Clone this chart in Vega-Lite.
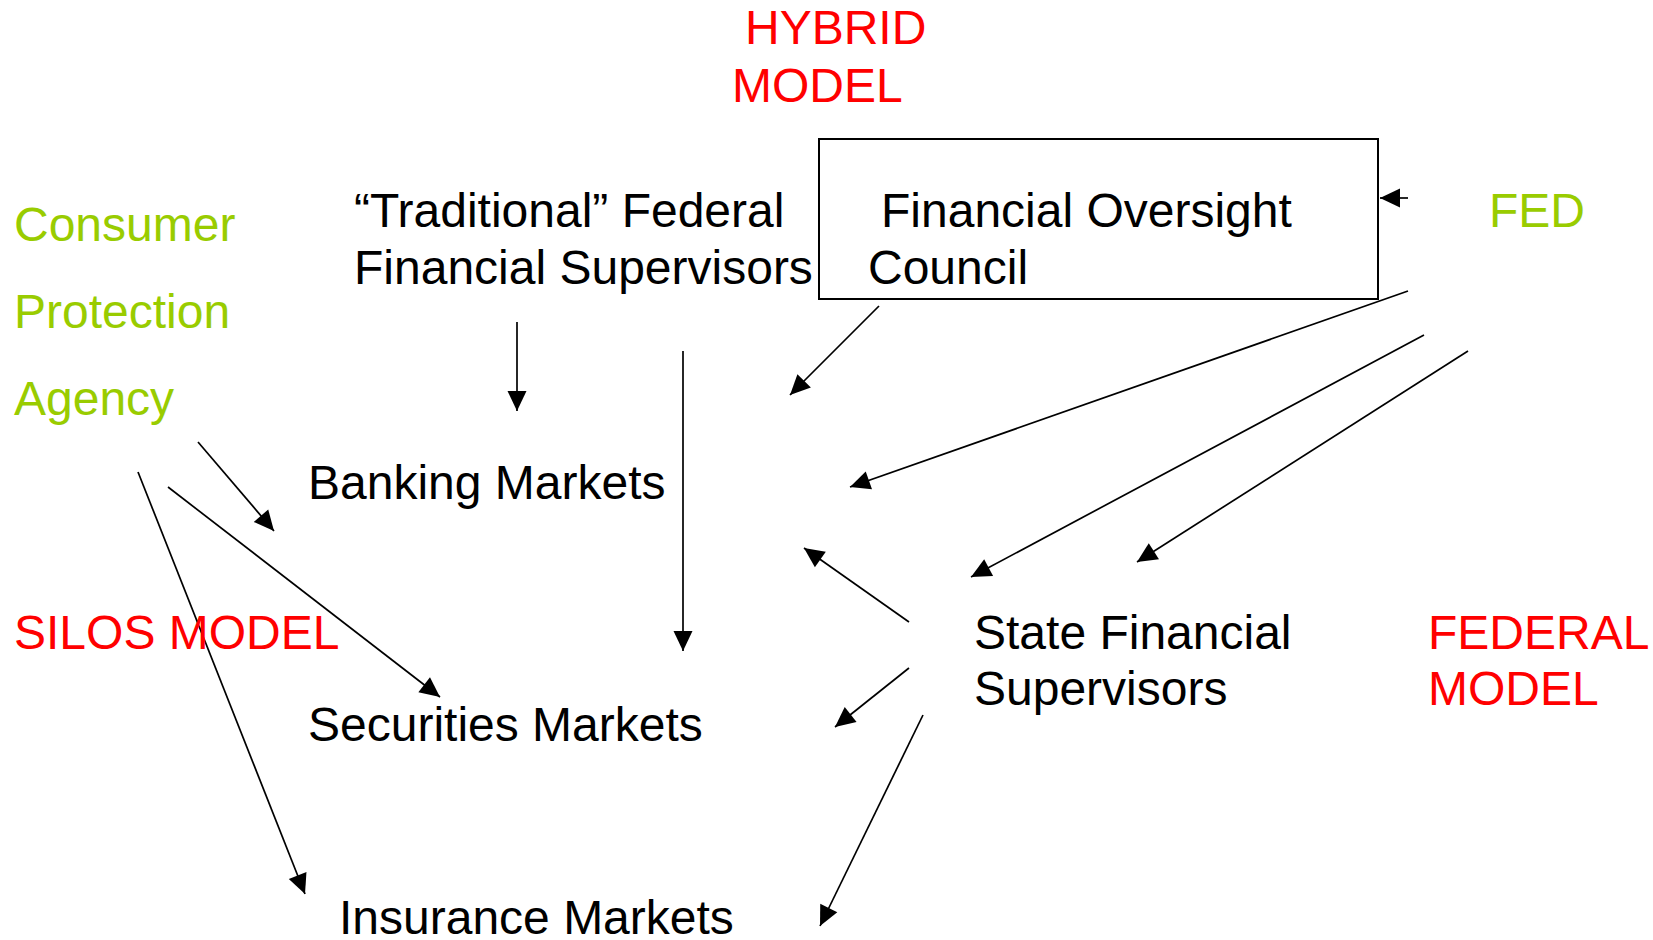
{
  "$schema": "https://vega.github.io/schema/vega-lite/v6.json",
  "width": 1653,
  "height": 940,
  "autosize": "none",
  "padding": 0,
  "background": "white",
  "config": {"view": {"stroke": null}},
  "datasets": {
    "labels": [
      {"text": "HYBRID", "x": 745, "y": 44, "kind": "model"},
      {"text": "MODEL", "x": 732, "y": 102, "kind": "model"},
      {"text": "Consumer", "x": 14, "y": 241, "kind": "agency"},
      {"text": "Protection", "x": 14, "y": 328, "kind": "agency"},
      {"text": "Agency", "x": 14, "y": 415, "kind": "agency"},
      {"text": "“Traditional” Federal", "x": 354, "y": 227, "kind": "node"},
      {"text": "Financial Supervisors", "x": 354, "y": 284, "kind": "node"},
      {"text": "Financial Oversight", "x": 881, "y": 227, "kind": "node"},
      {"text": "Council", "x": 868, "y": 284, "kind": "node"},
      {"text": "FED", "x": 1489, "y": 227, "kind": "agency"},
      {"text": "Banking Markets", "x": 308, "y": 499, "kind": "node"},
      {"text": "SILOS MODEL", "x": 14, "y": 649, "kind": "model"},
      {"text": "Securities Markets", "x": 308, "y": 741, "kind": "node"},
      {"text": "Insurance Markets", "x": 339, "y": 934, "kind": "node"},
      {"text": "State Financial", "x": 974, "y": 649, "kind": "node"},
      {"text": "Supervisors", "x": 974, "y": 705, "kind": "node"},
      {"text": "FEDERAL", "x": 1428, "y": 649, "kind": "model"},
      {"text": "MODEL", "x": 1428, "y": 705, "kind": "model"}
    ],
    "arrows": [
      {"x1": 1408, "y1": 198, "x2": 1380, "y2": 198},
      {"x1": 517, "y1": 322, "x2": 517, "y2": 411},
      {"x1": 683, "y1": 351, "x2": 683, "y2": 651},
      {"x1": 879, "y1": 306, "x2": 790, "y2": 395},
      {"x1": 1408, "y1": 291, "x2": 850, "y2": 487},
      {"x1": 1424, "y1": 335, "x2": 971, "y2": 577},
      {"x1": 1468, "y1": 351, "x2": 1137, "y2": 562},
      {"x1": 909, "y1": 622, "x2": 804, "y2": 548},
      {"x1": 909, "y1": 668, "x2": 835, "y2": 727},
      {"x1": 923, "y1": 715, "x2": 820, "y2": 926},
      {"x1": 198, "y1": 442, "x2": 274, "y2": 531},
      {"x1": 168, "y1": 487, "x2": 440, "y2": 697},
      {"x1": 138, "y1": 472, "x2": 305, "y2": 894}
    ],
    "box": [{"x": 819, "x2": 1378, "y": 139, "y2": 299}]
  },
  "layer": [
    {
      "data": {"name": "box"},
      "mark": {"type": "rect", "fill": "transparent", "stroke": "black", "strokeWidth": 2},
      "encoding": {
        "x": {"field": "x", "type": "quantitative", "scale": {"domain": [0, 1653], "nice": false, "zero": false}, "axis": null},
        "x2": {"field": "x2"},
        "y": {"field": "y", "type": "quantitative", "scale": {"domain": [0, 940], "nice": false, "zero": false, "reverse": true}, "axis": null},
        "y2": {"field": "y2"}
      }
    },
    {
      "data": {"name": "arrows"},
      "mark": {"type": "rule", "color": "black", "strokeWidth": 1.7},
      "encoding": {
        "x": {"field": "x1", "type": "quantitative", "axis": null},
        "y": {"field": "y1", "type": "quantitative", "axis": null},
        "x2": {"field": "x2"},
        "y2": {"field": "y2"}
      }
    },
    {
      "data": {"name": "arrows"},
      "transform": [
        {"calculate": "(atan2(datum.x2 - datum.x1, -(datum.y2 - datum.y1)) * 180 / PI + 360) % 360", "as": "ang"}
      ],
      "mark": {"type": "point", "shape": "M0,0L-0.38,0.8L0.38,0.8Z", "filled": true, "color": "black", "opacity": 1, "size": 2500, "strokeWidth": 0},
      "encoding": {
        "x": {"field": "x2", "type": "quantitative", "axis": null},
        "y": {"field": "y2", "type": "quantitative", "axis": null},
        "angle": {"field": "ang", "type": "quantitative", "scale": null}
      }
    },
    {
      "data": {"name": "labels"},
      "mark": {"type": "text", "align": "left", "baseline": "alphabetic", "font": "Liberation Sans", "fontSize": 48},
      "encoding": {
        "x": {"field": "x", "type": "quantitative", "axis": null},
        "y": {"field": "y", "type": "quantitative", "axis": null},
        "text": {"field": "text"},
        "color": {"field": "kind", "type": "nominal", "legend": null, "scale": {"domain": ["model", "agency", "node"], "range": ["#ff0000", "#99cc00", "#000000"]}}
      }
    }
  ]
}
